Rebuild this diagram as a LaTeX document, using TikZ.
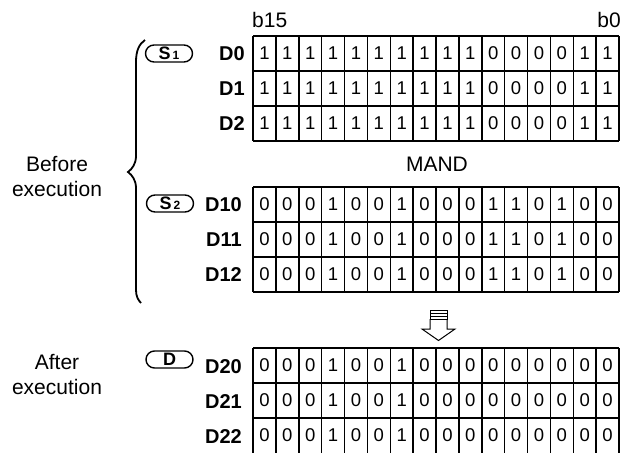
\documentclass[tikz,border=0pt]{standalone}
\usepackage{fontspec}
\setmainfont{Liberation Sans}
\begin{document}
\begin{tikzpicture}[x=1pt,y=-1pt,
  cell/.style={font=\fontsize{18.5}{18.5}\selectfont, inner sep=0pt},
  reg/.style={font=\bfseries\fontsize{20}{20}\selectfont, anchor=east, inner sep=0pt},
  oval/.style={draw, line width=1.4pt, rounded corners=8.5pt, minimum width=47pt, minimum height=17pt, inner sep=0pt},
  gridline/.style={line width=1.5pt},
  lbl/.style={font=\fontsize{21}{25.5}\selectfont, align=center, inner sep=0pt},
  bitlbl/.style={font=\fontsize{21}{21}\selectfont, inner sep=0pt}]
\useasboundingbox (0,0) rectangle (622,453);
% grids
\foreach \t/\h in {36/105,187/105,348/106} {
  \foreach \i in {0,...,16} \draw[gridline] ({253+\i*22.875},\t) -- ({253+\i*22.875},{\t+\h});
}
\foreach \t in {36,187} \foreach \j in {0,...,3} \draw[gridline] (253,{\t+\j*35}) -- (619,{\t+\j*35});
\foreach \j in {0,...,2} \draw[gridline] (253,{348+\j*35}) -- (619,{348+\j*35});
% digits
\foreach \rr in {0,1,2} {
  \foreach \b [count=\i from 0] in {1,1,1,1,1,1,1,1,1,1,0,0,0,0,1,1}
    \node[cell] (a-\rr-\i) at ({264.44+22.875*\i},{53.5+35*\rr}) {\b};
  \foreach \b [count=\i from 0] in {0,0,0,1,0,0,1,0,0,0,1,1,0,1,0,0}
    \node[cell] (b-\rr-\i) at ({264.44+22.875*\i},{204.5+35*\rr}) {\b};
  \foreach \b [count=\i from 0] in {0,0,0,1,0,0,1,0,0,0,0,0,0,0,0,0}
    \node[cell] (c-\rr-\i) at ({264.44+22.875*\i},{365.5+35*\rr}) {\b};
}
% register labels
\node[reg] (d0) at (245,53.5) {D0};
\node[reg] (d1) at (245,88.5) {D1};
\node[reg] (d2) at (245,123.5) {D2};
\node[reg] (d10) at (242,204.5) {D10};
\node[reg] (d11) at (242,239.5) {D11};
\node[reg] (d12) at (242,274.5) {D12};
\node[reg] (d20) at (242,366.5) {D20};
\node[reg] (d21) at (242,401.5) {D21};
\node[reg] (d22) at (242,436.5) {D22};
% bit labels
\node[bitlbl, anchor=west] (b15) at (252,20) {b15};
\node[bitlbl, anchor=east] (b0) at (621,20) {b0};
\node[bitlbl] (mand) at (437,164) {MAND};
% operand ovals
\node[oval] (s1) at (169,53.5) {\bfseries\fontsize{18}{18}\selectfont S\fontsize{12}{12}\selectfont\,1};
\node[oval] (s2) at (170,203.5) {\bfseries\fontsize{18}{18}\selectfont S\fontsize{12}{12}\selectfont\,2};
\node[oval] (dd) at (169.5,359.5) {\bfseries\fontsize{18}{18}\selectfont D};
% side labels
\node[lbl] (before) at (57,176.5) {Before\\execution};
\node[lbl] (after) at (57,374.5) {After\\execution};
% brace
\draw[line width=1.8pt] (145,40) .. controls (139,44) and (136,51) .. (136,62) -- (136,156)
  .. controls (136,164) and (132,169) .. (128,172) .. controls (132,175) and (136,180) .. (136,188)
  -- (136,290) .. controls (136,296) and (138,300) .. (141,303);
% hollow arrow
\draw[line width=1pt, fill=white] (430,319) -- (430,329) -- (422,329) -- (438.5,340.5) -- (455,329) -- (447,329) -- (447,319);
\draw[line width=1pt] (430,310) rectangle (447,319);
\draw[line width=0.8pt] (430,313) -- (447,313) (430,316) -- (447,316);
\end{tikzpicture}
\end{document}
